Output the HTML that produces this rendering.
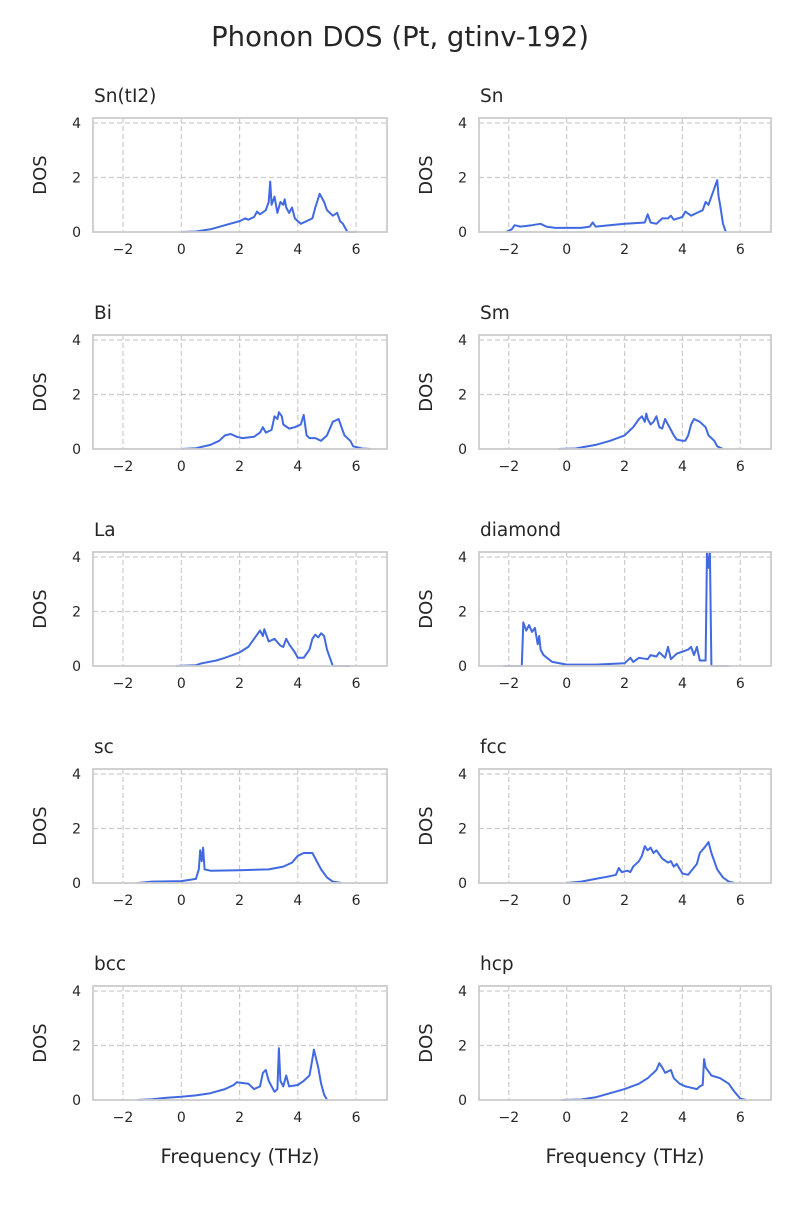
<!DOCTYPE html>
<html><head><meta charset="utf-8"><style>
html,body{margin:0;padding:0;background:#fff;}
svg text{font-family:"DejaVu Sans","Liberation Sans",sans-serif;fill:#262626;}
</style></head><body>
<svg id="s" width="800" height="1200" xmlns="http://www.w3.org/2000/svg">
<rect width="800" height="1200" fill="#fff"/>
<text x="400" y="46" font-size="27.5" text-anchor="middle">Phonon DOS (Pt, gtinv-192)</text>
</svg>
<script>
const D={
"Sn(tI2)":[0,0,0.5,0.02,1,0.1,1.5,0.25,2,0.4,2.2,0.5,2.3,0.45,2.5,0.55,2.6,0.75,2.7,0.65,2.9,0.8,3.0,1.1,3.05,1.85,3.1,1.0,3.2,1.3,3.3,0.7,3.4,1.1,3.5,1.0,3.55,1.2,3.6,0.9,3.7,0.7,3.8,0.9,3.9,0.5,4.0,0.4,4.1,0.3,4.3,0.4,4.5,0.5,4.6,0.9,4.75,1.4,4.9,1.1,5.0,0.8,5.2,0.6,5.35,0.7,5.45,0.4,5.55,0.3,5.7,0,6.0,0],
"Sn":[-2.1,0,-1.9,0.1,-1.8,0.25,-1.6,0.2,-1.2,0.25,-0.9,0.3,-0.7,0.2,-0.4,0.15,0.5,0.15,0.8,0.2,0.9,0.35,1.0,0.2,2,0.3,2.7,0.35,2.8,0.65,2.9,0.35,3.1,0.3,3.3,0.5,3.5,0.5,3.6,0.6,3.7,0.45,4,0.55,4.1,0.75,4.3,0.6,4.5,0.7,4.7,0.8,4.8,1.1,4.9,1.0,5.0,1.3,5.1,1.6,5.2,1.9,5.25,1.3,5.3,1.0,5.4,0.3,5.5,0],
"Bi":[0,0,0.5,0.03,1,0.15,1.3,0.3,1.5,0.5,1.7,0.55,1.9,0.45,2.1,0.4,2.5,0.45,2.7,0.6,2.8,0.8,2.9,0.6,3.1,0.7,3.2,1.2,3.3,1.1,3.35,1.35,3.45,1.2,3.5,0.9,3.7,0.75,3.9,0.8,4.1,0.9,4.2,1.25,4.3,0.5,4.4,0.4,4.6,0.4,4.8,0.3,5.0,0.5,5.2,1.0,5.4,1.1,5.5,0.8,5.6,0.5,5.8,0.3,5.9,0.1,6.2,0.02,6.5,0],
"Sm":[-0.3,0,0.3,0.02,1,0.15,1.5,0.3,2,0.5,2.3,0.8,2.5,1.1,2.6,1.2,2.7,1.0,2.75,1.3,2.8,1.1,2.9,0.9,3,1.0,3.1,1.2,3.2,0.8,3.3,0.75,3.4,1.1,3.5,0.9,3.7,0.5,3.8,0.35,4,0.3,4.1,0.3,4.2,0.5,4.3,0.9,4.4,1.1,4.6,1.0,4.8,0.8,4.9,0.5,5.1,0.3,5.2,0.1,5.4,0],
"La":[-0.2,0,0.5,0.03,0.7,0.1,1.2,0.2,1.5,0.3,2,0.5,2.3,0.7,2.5,1.0,2.7,1.3,2.8,1.1,2.85,1.35,3,0.9,3.2,1.0,3.4,0.75,3.5,0.7,3.6,1.0,3.7,0.8,3.9,0.5,4,0.3,4.2,0.3,4.4,0.6,4.5,1.0,4.6,1.15,4.7,1.05,4.8,1.2,4.9,1.1,5.0,0.6,5.2,0,5.8,0],
"diamond":[-2.2,0,-1.55,0,-1.5,1.6,-1.4,1.3,-1.3,1.5,-1.2,1.25,-1.1,1.4,-1.0,0.8,-0.95,1.1,-0.9,0.6,-0.8,0.4,-0.5,0.15,0,0.05,1,0.05,2,0.1,2.2,0.3,2.3,0.15,2.5,0.3,2.8,0.25,2.9,0.4,3.1,0.35,3.2,0.5,3.4,0.3,3.5,0.7,3.6,0.25,3.8,0.45,4.2,0.6,4.3,0.7,4.4,0.4,4.5,0.7,4.6,0.2,4.8,0.2,4.85,4.2,4.9,3.6,4.95,4.2,5.0,0,5.6,0],
"sc":[-1.5,0,-1,0.05,0,0.07,0.5,0.15,0.6,0.5,0.65,1.2,0.7,0.8,0.75,1.3,0.8,0.5,1,0.45,2,0.47,3,0.5,3.5,0.6,3.8,0.75,4,1.0,4.2,1.1,4.5,1.1,4.6,0.9,4.8,0.5,5.0,0.2,5.2,0.05,5.5,0],
"fcc":[0,0,0.5,0.05,1,0.15,1.5,0.25,1.7,0.3,1.8,0.55,1.9,0.4,2.1,0.45,2.2,0.4,2.3,0.6,2.5,0.8,2.6,1.0,2.7,1.35,2.8,1.2,2.9,1.3,3.0,1.1,3.1,1.2,3.3,0.9,3.5,0.75,3.6,0.8,3.7,0.6,3.8,0.7,4.0,0.35,4.2,0.3,4.5,0.7,4.6,1.1,4.8,1.35,4.9,1.5,5.0,1.1,5.2,0.5,5.4,0.2,5.6,0.05,5.8,0],
"bcc":[-1.5,0,-1,0.03,-0.5,0.08,0,0.12,0.5,0.17,1,0.25,1.5,0.4,1.8,0.55,1.9,0.65,2.3,0.6,2.5,0.4,2.7,0.5,2.8,1.0,2.9,1.1,3.0,0.7,3.1,0.5,3.2,0.3,3.3,0.4,3.35,1.9,3.4,0.7,3.5,0.5,3.6,0.9,3.7,0.5,4.0,0.55,4.2,0.7,4.4,0.9,4.5,1.5,4.55,1.85,4.7,1.2,4.8,0.6,4.9,0.2,5.0,0],
"hcp":[-0.2,0,0.5,0.02,1,0.1,1.5,0.25,2,0.4,2.5,0.6,2.8,0.8,3.0,1.0,3.1,1.1,3.2,1.35,3.3,1.2,3.4,1.0,3.6,1.1,3.7,0.8,3.9,0.6,4.1,0.5,4.3,0.45,4.5,0.4,4.6,0.5,4.7,0.55,4.75,1.5,4.8,1.2,5.0,0.9,5.3,0.8,5.6,0.6,5.8,0.3,6.0,0.05,6.2,0]
};
const names=["Sn(tI2)","Sn","Bi","Sm","La","diamond","sc","fcc","bcc","hcp"];
let h='';
names.forEach((n,i)=>{
 const c=i%2,r=Math.floor(i/2);
 const L=c?479:93,W=c?292:294,T=118+r*217,B=T+114;
 const sx=x=>L+(x+3.03)*W/10.09, sy=y=>B-y*27.25;
 h+=`<text x="${L+1}" y="${T-16}" font-size="18.5">${n}</text>`;
 [-2,0,2,4,6].forEach(v=>{const X=sx(v).toFixed(1);
  h+=`<line x1="${X}" y1="${T}" x2="${X}" y2="${B}" stroke="#cccccc" stroke-width="1.2" stroke-dasharray="5,3"/>`;
  h+=`<text x="${X}" y="${B+22}" font-size="14" text-anchor="middle">${v<0?'\u2212'+(-v):v}</text>`;});
 [0,2,4].forEach(v=>{const Y=sy(v).toFixed(1);
  h+=`<line x1="${L}" y1="${Y}" x2="${L+W}" y2="${Y}" stroke="#cccccc" stroke-width="1.2" stroke-dasharray="5,3"/>`;
  h+=`<text x="${L-12}" y="${+Y+5}" font-size="14" text-anchor="end">${v}</text>`;});
 h+=`<text transform="translate(${L-47},${(T+B)/2}) rotate(-90)" font-size="18" text-anchor="middle">DOS</text>`;
 const d=D[n];let p='';for(let k=0;k<d.length;k+=2)p+=(k?'L':'M')+sx(d[k]).toFixed(1)+','+Math.max(sy(d[k+1]),T).toFixed(1);
 h+=`<path d="${p}" fill="none" stroke="#4169e1" stroke-width="2" stroke-linejoin="round"/>`;
 h+=`<rect x="${L}" y="${T}" width="${W}" height="${B-T}" fill="none" stroke="#cccccc" stroke-width="1.8"/>`;
 if(r==4)h+=`<text x="${L+W/2}" y="1163" font-size="19.5" text-anchor="middle">Frequency (THz)</text>`;
});
document.getElementById('s').insertAdjacentHTML('beforeend',h);
</script>
</body></html>
